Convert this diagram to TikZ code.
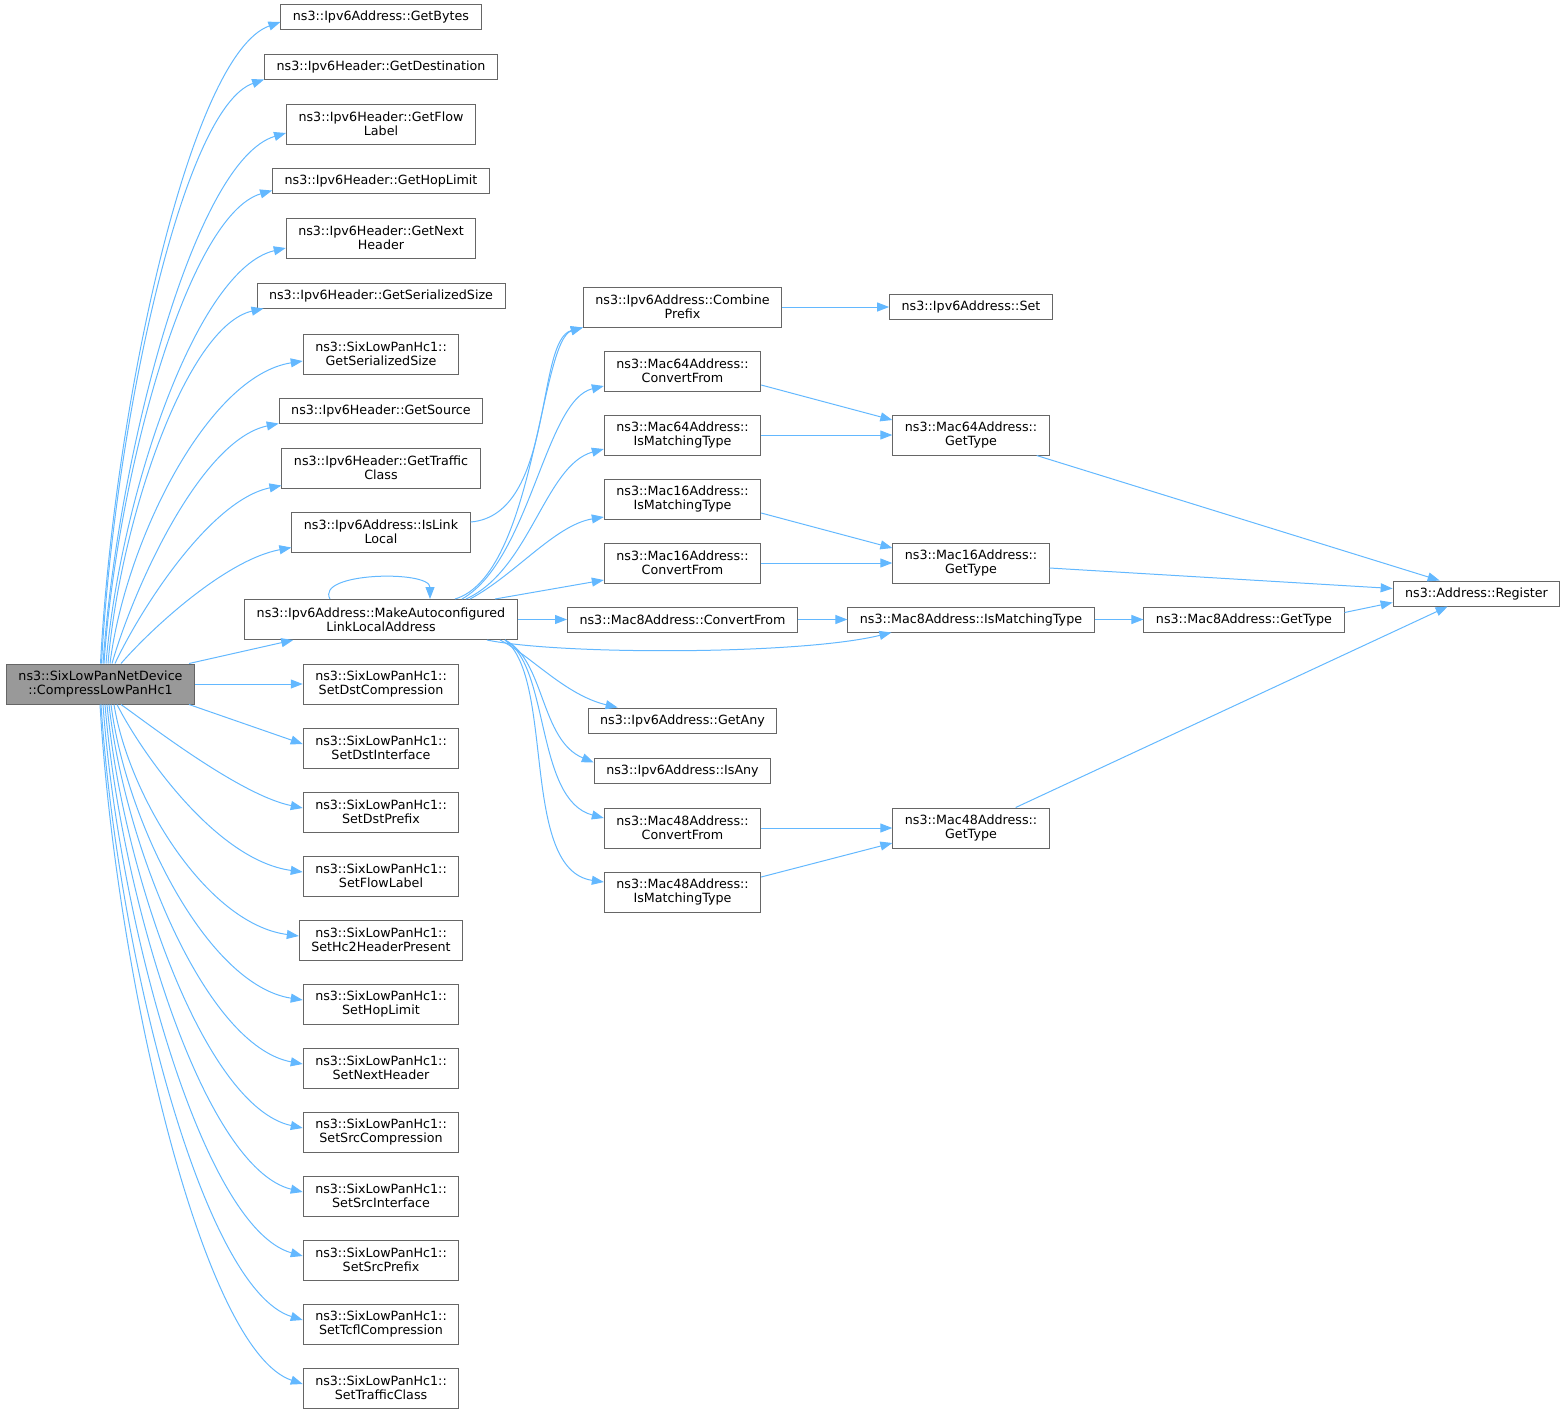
\documentclass[tikz,border=0pt]{standalone}
\usepackage{fontspec}
\setmainfont{DejaVu Sans}
\usepackage{tikz}
\usetikzlibrary{arrows.meta}
\usetikzlibrary{calc}
\definecolor{edgeblue}{HTML}{63B8FF}
\definecolor{boxgray}{HTML}{666666}
\definecolor{mainfill}{HTML}{999999}

\begin{document}
\begin{tikzpicture}[x=1pt, y=-1pt,
		fn/.style={draw=boxgray, line width=1pt, fill=white, align=center, inner xsep=12pt, inner ysep=0pt, minimum height=25pt, font=\fontsize{12.7}{14}\selectfont},
		fn2/.style={fn, minimum height=40pt},
		edge/.style={draw=edgeblue, line width=1pt, -{Triangle[length=12pt,width=9pt]}}]
		\useasboundingbox (0,0) rectangle (1565,1414);

		\node[fn2, fill=mainfill] (main) at (100.5,684) {ns3::SixLowPanNetDevice\\::CompressLowPanHc1};

		\node[fn] (gbytes) at (381,17) {ns3::Ipv6Address::GetBytes};
		\node[fn] (gdest) at (381,66.5) {ns3::Ipv6Header::GetDestination};
		\node[fn2] (gflow) at (381,124) {ns3::Ipv6Header::GetFlow\\Label};
		\node[fn] (ghop) at (381,180.5) {ns3::Ipv6Header::GetHopLimit};
		\node[fn2] (gnext) at (381,238) {ns3::Ipv6Header::GetNext\\Header};
		\node[fn] (gser) at (381,295.5) {ns3::Ipv6Header::GetSerializedSize};
		\node[fn2] (hcser) at (381,354) {ns3::SixLowPanHc1::\\GetSerializedSize};
		\node[fn] (gsrc) at (381,410.5) {ns3::Ipv6Header::GetSource};
		\node[fn2] (gtc) at (381,468) {ns3::Ipv6Header::GetTraffic\\Class};
		\node[fn2] (islink) at (381,532) {ns3::Ipv6Address::IsLink\\Local};
		\node[fn2] (mkauto) at (381,619.5) {ns3::Ipv6Address::MakeAutoconfigured\\LinkLocalAddress};
		\node[fn2] (dstcomp) at (381,684) {ns3::SixLowPanHc1::\\SetDstCompression};
		\node[fn2] (dstif) at (381,748) {ns3::SixLowPanHc1::\\SetDstInterface};
		\node[fn2] (dstpre) at (381,812) {ns3::SixLowPanHc1::\\SetDstPrefix};
		\node[fn2] (flow) at (381,876) {ns3::SixLowPanHc1::\\SetFlowLabel};
		\node[fn2] (hc2) at (381,940) {ns3::SixLowPanHc1::\\SetHc2HeaderPresent};
		\node[fn2] (hop) at (381,1004) {ns3::SixLowPanHc1::\\SetHopLimit};
		\node[fn2] (next) at (381,1068) {ns3::SixLowPanHc1::\\SetNextHeader};
		\node[fn2] (srccomp) at (381,1132) {ns3::SixLowPanHc1::\\SetSrcCompression};
		\node[fn2] (srcif) at (381,1196) {ns3::SixLowPanHc1::\\SetSrcInterface};
		\node[fn2] (srcpre) at (381,1260) {ns3::SixLowPanHc1::\\SetSrcPrefix};
		\node[fn2] (tcfl) at (381,1324) {ns3::SixLowPanHc1::\\SetTcflCompression};
		\node[fn2] (tc) at (381,1388) {ns3::SixLowPanHc1::\\SetTrafficClass};

		\node[fn2] (comb) at (682.5,307) {ns3::Ipv6Address::Combine\\Prefix};
		\node[fn2] (m64cf) at (682.5,371) {ns3::Mac64Address::\\ConvertFrom};
		\node[fn2] (m64im) at (682.5,435) {ns3::Mac64Address::\\IsMatchingType};
		\node[fn2] (m16im) at (682.5,499) {ns3::Mac16Address::\\IsMatchingType};
		\node[fn2] (m16cf) at (682.5,563) {ns3::Mac16Address::\\ConvertFrom};
		\node[fn] (m8cf) at (682.5,619.5) {ns3::Mac8Address::ConvertFrom};
		\node[fn] (gany) at (682.5,720.5) {ns3::Ipv6Address::GetAny};
		\node[fn] (isany) at (682.5,770.5) {ns3::Ipv6Address::IsAny};
		\node[fn2] (m48cf) at (682.5,828) {ns3::Mac48Address::\\ConvertFrom};
		\node[fn2] (m48im) at (682.5,892) {ns3::Mac48Address::\\IsMatchingType};

		\node[fn] (iset) at (971,306.5) {ns3::Ipv6Address::Set};
		\node[fn2] (m64gt) at (971,435) {ns3::Mac64Address::\\GetType};
		\node[fn2] (m16gt) at (971,563) {ns3::Mac16Address::\\GetType};
		\node[fn] (m8im) at (971,619.5) {ns3::Mac8Address::IsMatchingType};
		\node[fn2] (m48gt) at (971,828) {ns3::Mac48Address::\\GetType};
		\node[fn] (m8gt) at (1244,619.5) {ns3::Mac8Address::GetType};
		\node[fn] (reg) at (1476.5,593.5) {ns3::Address::Register};

		% calls of CompressLowPanHc1
		\draw[edge] (main.north) .. controls (114,407) and (190,54) .. ($(gbytes.west)+(0,5)$);
		\draw[edge] ($(main.north)+(1,0)$) .. controls (114,430) and (182,108) .. (gdest.south west);
		\draw[edge] ($(main.north)+(2.5,0)$) .. controls (118,452) and (195,160) .. ($(gflow.west)+(0,9)$);
		\draw[edge] ($(main.north)+(3.5,0)$) .. controls (117,475) and (188,215) .. ($(ghop.west)+(0,10)$);
		\draw[edge] ($(main.north)+(5.5,0)$) .. controls (120,498) and (196,269) .. ($(gnext.west)+(0,10)$);
		\draw[edge] ($(main.north)+(7.5,0)$) .. controls (120,522) and (186,326) .. ($(gser.south west)+(7,0)$);
		\draw[edge] ($(main.north)+(9.5,0)$) .. controls (125,543) and (207,376) .. ($(hcser.west)+(0,7)$);
		\draw[edge] ($(main.north)+(11.5,0)$) .. controls (133,590) and (200,440) .. (gsrc.south west);
		\draw[edge] ($(main.north)+(14.5,0)$) .. controls (140,610) and (210,500) .. ($(gtc.south west)+(0,-3)$);
		\draw[edge] ($(main.north)+(20.5,0)$) .. controls (150,630) and (225,560) .. ($(islink.south west)+(0,-5)$);
		\draw[edge] ($(main.north east)+(-6,0)$) -- ($(mkauto.south west)+(49,0)$);
		\draw[edge] (main.east) -- (dstcomp.west);
		\draw[edge] ($(main.south east)+(-6,0)$) -- ($(dstif.west)+(0,-4)$);
		\draw[edge] ($(main.south)+(20.5,0)$) .. controls (150,725) and (240,795) .. ($(dstpre.west)+(0,-4)$);
		\draw[edge] ($(main.south)+(16.5,0)$) .. controls (140,750) and (215,860) .. ($(flow.west)+(0,-4)$);
		\draw[edge] ($(main.south)+(13.5,0)$) .. controls (129,797) and (207,924) .. ($(hc2.west)+(0,-4)$);
		\draw[edge] ($(main.south)+(10.5,0)$) .. controls (126,822) and (207,985) .. ($(hop.west)+(0,-4)$);
		\draw[edge] ($(main.south)+(8.5,0)$) .. controls (125,848) and (206,1046) .. ($(next.west)+(0,-4)$);
		\draw[edge] ($(main.south)+(6.5,0)$) .. controls (123,874) and (205,1107) .. ($(srccomp.west)+(0,-4)$);
		\draw[edge] ($(main.south)+(4.5,0)$) .. controls (121,899) and (204,1168) .. ($(srcif.west)+(0,-4)$);
		\draw[edge] ($(main.south)+(2.5,0)$) .. controls (119,925) and (203,1228) .. ($(srcpre.west)+(0,-4)$);
		\draw[edge] ($(main.south)+(0.5,0)$) .. controls (117,950) and (202,1289) .. ($(tcfl.west)+(0,-4)$);
		\draw[edge] ($(main.south)+(-0.5,0)$) .. controls (116,976) and (202,1350) .. ($(tc.west)+(0,-4)$);

		% calls of MakeAutoconfiguredLinkLocalAddress
		\draw[edge] ($(mkauto.north)+(-51,0)$) .. controls +(-15,-27) and +(0,-29) .. ($(mkauto.north)+(49,0)$);
		\draw[edge] ($(islink.east)+(0,-10)$) .. controls (555,515) and (535,340) .. (comb.south west);
		\draw[edge] ($(mkauto.north)+(74,0)$) .. controls (535,575) and (540,340) .. (comb.south west);
		\draw[edge] ($(mkauto.north)+(81,0)$) .. controls (530,560) and (545,400) .. ($(m64cf.west)+(0,15)$);
		\draw[edge] ($(mkauto.north)+(85,0)$) .. controls (530,570) and (545,465) .. ($(m64im.west)+(0,14)$);
		\draw[edge] ($(mkauto.north)+(89,0)$) .. controls (515,575) and (555,525) .. ($(m16im.west)+(0,18)$);
		\draw[edge] ($(mkauto.north)+(114,0)$) -- ($(m16cf.west)+(0,17)$);
		\draw[edge] (mkauto.east) -- (m8cf.west);
		\draw[edge] ($(mkauto.south)+(106,0)$) .. controls (560,655) and (800,655) .. ($(m8im.south west)+(44,0)$);
		\draw[edge] ($(mkauto.south)+(119,0)$) .. controls (530,655) and (565,695) .. ($(gany.north west)+(30,0)$);
		\draw[edge] ($(mkauto.south)+(124,0)$) .. controls (545,660) and (540,740) .. ($(isany.west)+(0,-8)$);
		\draw[edge] ($(mkauto.south)+(124,0)$) .. controls (550,665) and (535,800) .. ($(m48cf.west)+(0,-10)$);
		\draw[edge] ($(mkauto.south)+(124,0)$) .. controls (555,680) and (520,870) .. ($(m48im.west)+(0,-10)$);

		% further calls
		\draw[edge] (comb.east) -- (comb.east -| iset.west);
		\draw[edge] ($(m64cf.east)+(0,14)$) -- ($(m64gt.west)+(0,-15)$);
		\draw[edge] (m64im) -- (m64gt);
		\draw[edge] ($(m16im.east)+(0,14)$) -- ($(m16gt.west)+(0,-15)$);
		\draw[edge] (m16cf) -- (m16gt);
		\draw[edge] (m8cf) -- (m8im);
		\draw[edge] (m8im) -- (m8gt);
		\draw[edge] (m48cf) -- (m48gt);
		\draw[edge] ($(m48im.east)+(0,-15)$) -- ($(m48gt.west)+(0,15)$);
		\draw[edge] ($(m8gt.east)+(0,-7)$) -- ($(reg.west)+(0,9)$);
		\draw[edge] ($(m64gt.south east)+(-13,0)$) -- ($(reg.north west)+(47,0)$);
		\draw[edge] ($(m16gt.east)+(0,5)$) -- ($(reg.west)+(0,-5)$);
		\draw[edge] ($(m48gt.north east)+(-34,0)$) -- ($(reg.south west)+(55,0)$);
	\end{tikzpicture}
\end{document}
